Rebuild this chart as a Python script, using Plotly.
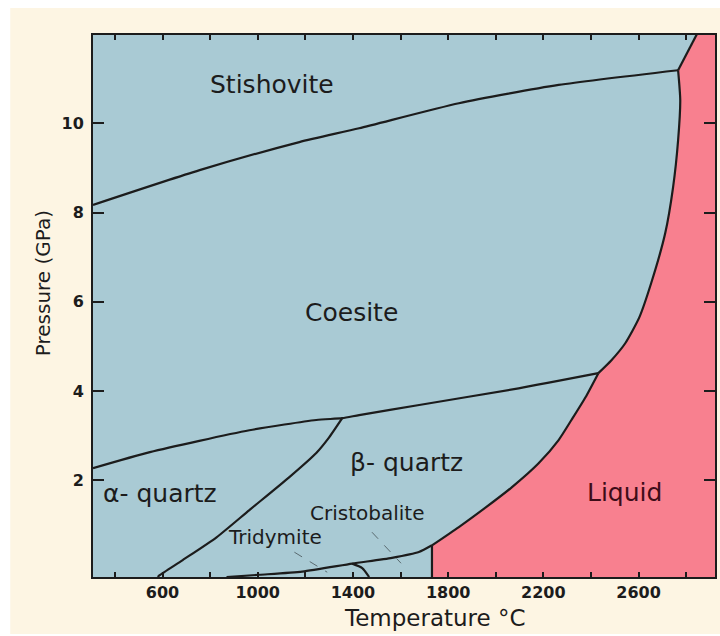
import plotly.graph_objects as go

# ---------------- data ----------------
T_RANGE = [308, 2921]      # Temperature (°C) axis extent
P_RANGE = [-0.17, 11.98]   # Pressure (GPa) axis extent

x_tickvals = [400, 600, 800, 1000, 1200, 1400, 1600, 1800, 2000, 2200, 2400, 2600, 2800]
x_ticktext = ["", "600", "", "1000", "", "1400", "", "1800", "", "2200", "", "2600", ""]
y_tickvals = [2, 4, 6, 8, 10]
y_ticktext = ["2", "4", "6", "8", "10"]

# Stishovite / Coesite boundary
stish_coes_T = [308, 756, 1175, 1426, 1845, 2264, 2766]
stish_coes_P = [8.17, 8.95, 9.58, 9.89, 10.45, 10.86, 11.19]

# Stishovite / Liquid boundary
stish_liq_T = [2766, 2845]
stish_liq_P = [11.19, 12.0]

# Melting curve, Coesite -> Liquid (upper part)
melt_hi_T = [2766, 2775, 2766, 2745, 2712, 2653, 2603, 2544, 2486, 2431]
melt_hi_P = [11.19, 10.52, 9.62, 8.57, 7.54, 6.42, 5.65, 5.07, 4.69, 4.40]

# Melting curve, beta-quartz -> Liquid (lower part)
melt_lo_T = [2431, 2377, 2318, 2264, 2180, 2067, 1958, 1845, 1732]
melt_lo_P = [4.40, 3.86, 3.35, 2.90, 2.38, 1.84, 1.39, 0.95, 0.54]

# Cristobalite -> Liquid (vertical)
melt_cr_T = [1732, 1732]
melt_cr_P = [0.54, -0.17]

# Quartz / Coesite boundary
qtz_coes_T = [308, 547, 965, 1246, 1355, 1426, 1672, 2096, 2431]
qtz_coes_P = [2.27, 2.63, 3.12, 3.35, 3.39, 3.46, 3.68, 4.06, 4.40]

# alpha-quartz / beta-quartz boundary
ab_T = [1355, 1300, 1246, 1133, 965, 827, 685, 588, 580]
ab_P = [3.39, 2.96, 2.61, 2.07, 1.33, 0.72, 0.21, -0.13, -0.17]

# beta-quartz / Tridymite & Cristobalite boundary
trid_T = [869, 1007, 1187, 1397, 1564, 1677, 1732]
trid_P = [-0.17, -0.12, -0.05, 0.13, 0.26, 0.39, 0.54]

# Tridymite / Cristobalite boundary
tc_T = [1397, 1439, 1468]
tc_P = [0.13, 0.03, -0.17]

# Liquid field outline
liq_T = stish_liq_T[::-1] + melt_hi_T[1:] + melt_lo_T[1:] + melt_cr_T[1:] + [T_RANGE[1], T_RANGE[1]]
liq_P = stish_liq_P[::-1] + melt_hi_P[1:] + melt_lo_P[1:] + melt_cr_P[1:] + [P_RANGE[0], 12.0]

# Field labels
labels = ["Stishovite", "Coesite", "β- quartz", "α- quartz", "Liquid", "Cristobalite", "Tridymite"]
label_T = [1062, 1393, 1627, 588, 2540, 1460, 1074]
label_P = [10.88, 5.77, 2.40, 1.71, 1.73, 1.26, 0.72]

# Dashed leader lines
trid_lead_T = [1154, 1292]
trid_lead_P = [0.386, -0.063]
cris_lead_T = [1480, 1602]
cris_lead_P = [0.834, 0.139]

# ---------------- styles ----------------
BLUE = "#a9cad4"
PINK = "#f8808f"
CREAM = "#fdf5e3"
INK = "#1c1c1c"
FONT = "DejaVu Sans"

fig = go.Figure()

fig.add_trace(go.Scatter(x=liq_T, y=liq_P, fill="toself", fillcolor=PINK,
                         mode="lines", line=dict(width=0), hoverinfo="skip"))

for tx, py in [(stish_coes_T, stish_coes_P), (stish_liq_T, stish_liq_P),
               (melt_hi_T, melt_hi_P), (melt_lo_T, melt_lo_P), (melt_cr_T, melt_cr_P),
               (qtz_coes_T, qtz_coes_P), (ab_T, ab_P),
               (trid_T, trid_P), (tc_T, tc_P)]:
    fig.add_trace(go.Scatter(x=tx, y=py, mode="lines",
                             line=dict(color=INK, width=2.2, shape="spline", smoothing=0.6),
                             hoverinfo="skip"))

for tx, py in [(trid_lead_T, trid_lead_P), (cris_lead_T, cris_lead_P)]:
    fig.add_trace(go.Scatter(x=tx, y=py, mode="lines",
                             line=dict(color="#5a6a70", width=1, dash="dash"),
                             hoverinfo="skip"))

label_sizes = [25, 25, 25, 25, 25, 20, 20]
label_colors = [INK, INK, INK, INK, "#3d0c18", INK, INK]
for txt, tx, py, sz, col in zip(labels, label_T, label_P, label_sizes, label_colors):
    fig.add_annotation(x=tx, y=py, text=txt, showarrow=False,
                       font=dict(family=FONT, size=sz, color=col),
                       xanchor="center", yanchor="middle")

# axis titles
fig.add_annotation(xref="paper", yref="paper", x=0.5497, y=(577 - 618) / 542,
                   text="Temperature °C", showarrow=False,
                   font=dict(family=FONT, size=23, color=INK),
                   xanchor="center", yanchor="middle")
fig.add_annotation(xref="paper", yref="paper", x=-0.080, y=0.5424,
                   text="Pressure (GPa)", showarrow=False, textangle=-90,
                   font=dict(family=FONT, size=20, color=INK),
                   xanchor="center", yanchor="middle")

# white outer border strips (outside the cream panel)
fig.add_shape(type="rect", xref="paper", yref="paper", x0=-0.2, x1=(10 - 93) / 624,
              y0=-0.2, y1=1.2, fillcolor="white", line=dict(width=0), layer="below")
fig.add_shape(type="rect", xref="paper", yref="paper", x0=-0.2, x1=1.2,
              y0=(577 - 8) / 542, y1=1.2, fillcolor="white", line=dict(width=0), layer="below")
fig.add_shape(type="rect", xref="paper", yref="paper", x0=-0.2, x1=1.2,
              y0=-0.2, y1=(577 - 634) / 542, fillcolor="white", line=dict(width=0), layer="below")

fig.update_layout(
    width=720, height=636,
    margin=dict(l=93, r=3, t=35, b=59),
    paper_bgcolor=CREAM, plot_bgcolor=BLUE,
    showlegend=False,
    xaxis=dict(range=T_RANGE, tickmode="array", tickvals=x_tickvals, ticktext=x_ticktext,
               ticks="inside", ticklen=5, tickwidth=1.5, tickcolor=INK,
               showline=True, linecolor=INK, linewidth=2, mirror="ticks",
               showgrid=False, zeroline=False,
               tickfont=dict(family=FONT, size=16, color=INK, weight="bold")),
    yaxis=dict(range=P_RANGE, tickmode="array", tickvals=y_tickvals, ticktext=y_ticktext,
               ticks="inside", ticklen=11, tickwidth=1.5, tickcolor=INK,
               showline=True, linecolor=INK, linewidth=2, mirror="ticks",
               showgrid=False, zeroline=False, ticklabelstandoff=4,
               tickfont=dict(family=FONT, size=16, color=INK, weight="bold")),
)

fig.write_html("out.html")
